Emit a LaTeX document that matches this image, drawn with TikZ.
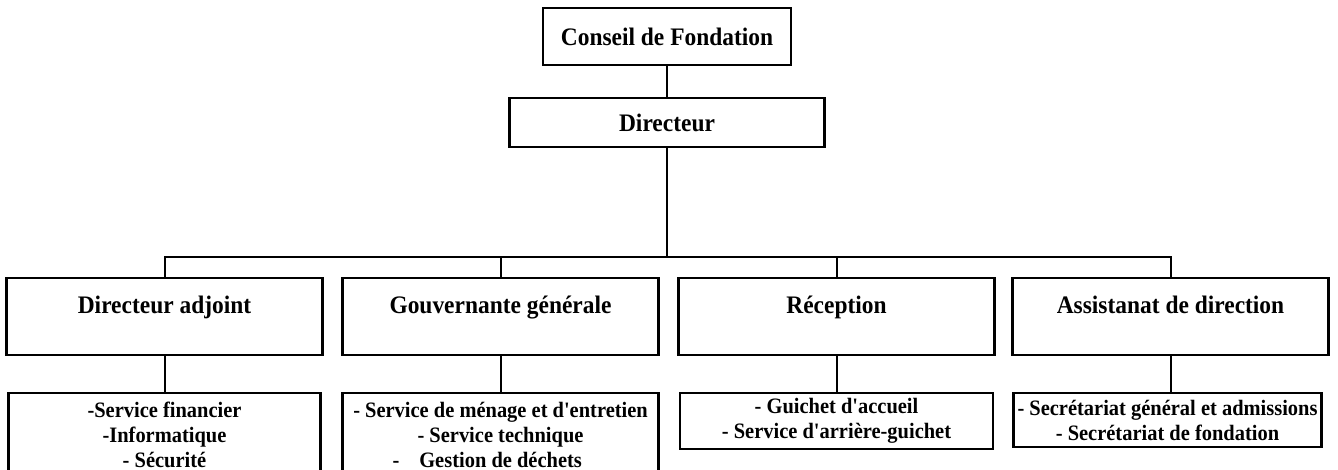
\documentclass[tikz,border=0pt]{standalone}
\usepackage{fontspec}
\newfontfamily\orgfont[FakeStretch=0.93]{Liberation Serif}
\usetikzlibrary{positioning}

\begin{document}
\begin{tikzpicture}[x=0.5pt,y=-0.5pt,
						boss/.style={draw,line width=1.3pt,inner sep=0pt,outer sep=0pt,font=\orgfont\bfseries\fontsize{12.6}{15}\selectfont},
						dept/.style={draw,line width=1.3pt,inner sep=0pt,outer sep=0pt,minimum width=158pt,text height=17.65pt,text depth=20.85pt,font=\orgfont\bfseries\fontsize{12.6}{15}\selectfont},
						unit/.style={draw,line width=1.1pt,inner xsep=2pt,inner ysep=2.75pt,outer sep=0pt,minimum height=27pt,align=center,font=\orgfont\bfseries\fontsize{11}{12.5}\selectfont},
						link/.style={line width=1pt}]
		\useasboundingbox (0,0) rectangle (1338,470);
		\clip (0,0) rectangle (1338,470);

		\node[boss,minimum width=124pt,minimum height=28.5pt]						(conseil)	at (667,36.5)	{Conseil de Fondation};
		\node[boss,minimum width=157.5pt,minimum height=24.5pt,below=16.5pt of conseil]	(directeur)		{Directeur};

		\node[dept]										(adjoint)	at (164.5,316.5)	{Directeur adjoint};
		\node[dept,right=10pt of adjoint]				(gouv)		{Gouvernante générale};
		\node[dept,right=10pt of gouv]					(reception)	{Réception};
		\node[dept,right=9pt of reception]				(assist)	{Assistanat de direction};

		% the two long lists run past the bottom edge
		\node[unit,minimum width=156pt,minimum height=42pt,below=19pt of adjoint]	(adjointsvc)	{-Service financier\\-Informatique\\- Sécurité};
		\node[unit,minimum width=158pt,minimum height=42pt,below=19pt of gouv]		(gouvsvc)		{- Service de ménage et d'entretien\\- Service technique\\\hspace{-1.2em}-\hspace{0.9em}Gestion de déchets};
		\node[unit,minimum width=156.5pt,below=19pt of reception]			(receptionsvc)	{- Guichet d'accueil\\- Service d'arrière-guichet};
		\node[unit,minimum width=152.5pt,below=19pt of assist,xshift=-1.5pt]	(assistsvc)		{- Secrétariat général et admissions\\- Secrétariat de fondation};

		\coordinate (bus) at (667,257);

		\draw[link] (conseil) -- (directeur);
		\draw[link] (directeur) -- (bus);
		\draw[link] (adjoint.north) |- (bus) -| (assist.north);
		\draw[link] (gouv.north) -- (gouv.north |- bus);
		\draw[link] (reception.north) -- (reception.north |- bus);

		\draw[link] (adjoint) -- (adjoint |- adjointsvc.north);
		\draw[link] (gouv) -- (gouv |- gouvsvc.north);
		\draw[link] (reception) -- (reception |- receptionsvc.north);
		\draw[link] (assist) -- (assist |- assistsvc.north);
	\end{tikzpicture}
\end{document}
